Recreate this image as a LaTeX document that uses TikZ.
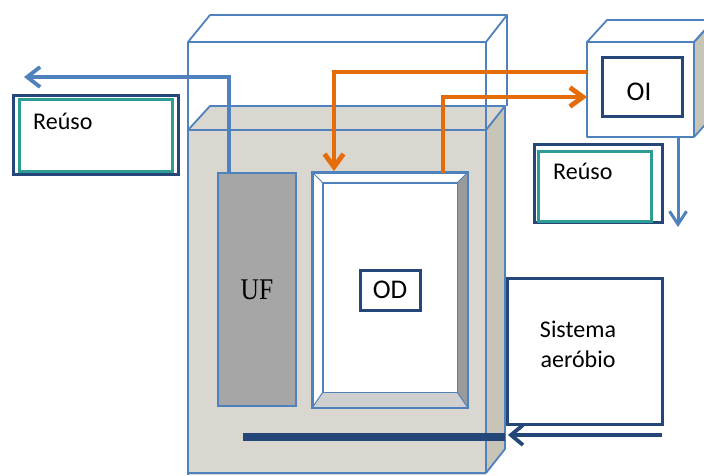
\documentclass[tikz,border=0pt]{standalone}
\usepackage{fontspec}
\setmainfont{Carlito}
\newfontfamily\uffont{Liberation Serif}
\usetikzlibrary{arrows.meta}
\definecolor{lb}{RGB}{79,129,189}
\definecolor{db}{RGB}{36,70,120}
\definecolor{tl}{RGB}{46,155,148}
\definecolor{og}{RGB}{228,108,10}
\definecolor{gfill}{RGB}{217,215,207}
\definecolor{gside}{RGB}{199,196,184}
\definecolor{uff}{RGB}{166,166,166}
\definecolor{bevdark}{RGB}{154,154,154}
\definecolor{bevlight}{RGB}{208,208,208}
\begin{document}
\begin{tikzpicture}[x=1pt,y=-1pt,
  edge/.style={draw=lb,line width=1.8pt,line join=round},
  lblbox/.style={draw=db,line width=3pt,fill=white,inner sep=0pt},
  teal/.style={draw=tl,line width=3pt},
  txt/.style={inner sep=0pt,font=\fontsize{24}{30}\selectfont},
  bigtxt/.style={font=\fontsize{27}{30}\selectfont},
  bluearrow/.style={draw=lb,line width=3.8pt,-{Straight Barb[length=13pt,width=20pt]}},
  thinarrow/.style={draw=lb,line width=3pt,-{Straight Barb[length=13pt,width=17pt]}},
  orarrow/.style={draw=og,line width=4.8pt,-{Straight Barb[length=13pt,width=19pt]}},
  dbarrow/.style={draw=db,line width=3.8pt,-{Straight Barb[length=12pt,width=20pt]}}
]
\useasboundingbox (0,0) rectangle (704,475);
\fill[white] (0,0) rectangle (704,475);

% ---- outer transparent box
\draw[edge] (188,42) -- (210,15) -- (507,15) -- (486,42) -- cycle;
\draw[edge] (507,15) -- (507,106);
% ---- grey tank
\fill[gfill] (188,130) -- (210,106) -- (505,106) -- (486,130) -- cycle;
\fill[gside] (486,130) -- (505,106) -- (505,449) -- (486,473) -- cycle;
\fill[gfill] (188,130) rectangle (486,475);
\draw[edge] (188,130) -- (210,106) -- (505,106) -- (486,130) -- cycle;
\draw[edge] (505,106) -- (505,449) -- (486,473);
\draw[edge] (188,473) -- (486,473);
\draw[edge] (188,42) -- (188,475);
\draw[edge] (486,42) -- (486,473);

% ---- UF
\node[draw=lb,fill=uff,line width=1.8pt,minimum width=78pt,minimum height=233pt,inner sep=0pt,
      font=\uffont\fontsize{30}{30}\selectfont] (uf) at (257,289.5) {\scalebox{0.85}[1]{UF}};

% ---- OD frame
\node[draw=lb,fill=white,line width=1.8pt,minimum width=154pt,minimum height=234pt,inner sep=0pt] (od) at (390,290) {};
\node[minimum width=134pt,minimum height=209pt,inner sep=0pt] (odin) at (390,287.5) {};
\fill[bevdark] (od.north east) -- (od.south east) -- (odin.south east) -- (odin.north east) -- cycle;
\fill[bevlight] (od.south west) -- (od.south east) -- (odin.south east) -- (odin.south west) -- cycle;
\draw[draw=lb,line width=1.8pt] (od.north west) rectangle (od.south east);
\draw[draw=lb,line width=1.4pt] (odin.north west) rectangle (odin.south east);
\draw[draw=lb,line width=1pt] (od.north west) -- (odin.north west)
  (od.north east) -- (odin.north east) (od.south east) -- (odin.south east)
  (od.south west) -- (odin.south west);
\node[lblbox,minimum width=60pt,minimum height=40pt,bigtxt] (odl) at (390,290) {OD};

% ---- OI cube
\fill[gside] (694,42) -- (714,20) -- (714,115) -- (694,137) -- cycle;
\draw[edge,fill=white] (587,42) -- (607,20) -- (714,20) -- (694,42) -- cycle;
\draw[edge] (694,42) -- (714,20) -- (714,115) -- (694,137);
\node[edge,fill=white,minimum width=107pt,minimum height=95pt,inner sep=0pt] (oi) at (640.5,89.5) {};
\node[lblbox,minimum width=80pt,minimum height=59pt] (oil) at (642,86.5) {};
\node[bigtxt,inner sep=0pt] (oitxt) at (639,92) {OI};

% ---- Reuso boxes
\node[lblbox,minimum width=165pt,minimum height=79pt] (reuseL) at (95.5,134.5) {};
\draw[teal] (19,99) rectangle (172,171);
\node[txt,anchor=west] (reuseLtxt) at (33,121) {Reúso};

\node[lblbox,minimum width=128pt,minimum height=78pt] (reuseR) at (598,183) {};
\draw[teal,fill=white] (538,151) rectangle (651,221);
\node[txt,anchor=west] (reuseRtxt) at (553,171) {Reúso};

% ---- Sistema aerobio
\node[lblbox,minimum width=155pt,minimum height=146pt] (aer) at (584.5,351) {};
\node[txt,align=center] (aertxt) at (578,344) {Sistema\\aeróbio};

% ---- bottom bar
\node[fill=db,minimum width=262pt,minimum height=8pt,inner sep=0pt] (bar) at (374,437) {};

% ---- connectors
\coordinate (reuseLin) at (24,77);
\draw[bluearrow] ([xshift=12pt]uf.north west) |- (reuseLin);

\coordinate (oiOut) at (587,72);
\coordinate (odIn) at (334,171);
\draw[orarrow] (oiOut) -| (odIn);

\coordinate (odOut) at (443,173);
\coordinate (oiIn) at (587,97);
\draw[orarrow] (odOut) |- (oiIn);

\coordinate (reuseRout) at (678,227);
\draw[thinarrow] (oi.south -| reuseRout) -- (reuseRout);

\coordinate (aerOut) at (662,435);
\coordinate (barIn) at (508,435);
\draw[dbarrow] (aerOut) -- (barIn);
\end{tikzpicture}
\end{document}
